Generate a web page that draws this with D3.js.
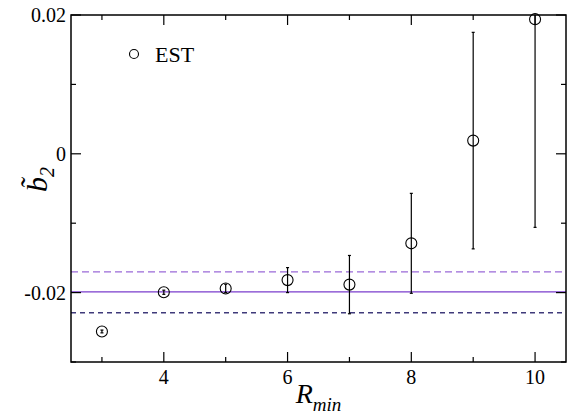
<!DOCTYPE html>
<html>
<head>
<meta charset="utf-8">
<script src="https://cdn.jsdelivr.net/npm/d3@7.9.0/dist/d3.min.js"></script>
<style>
  body { margin: 0; background: #fff; }
</style>
</head>
<body>
<svg id="chart" width="569" height="418"></svg>
<script>
// R_min values and the EST estimate of b2 with its error
const rmin = [3, 4, 5, 6, 7, 8, 9, 10];
const est = [-0.0256, -0.01995, -0.0194, -0.0182, -0.01885, -0.0129, 0.0019, 0.0194];
const estErr = [0.0002, 0.0003, 0.0006, 0.0018, 0.0042, 0.0072, 0.0156, 0.0300];

// reference lines: central value and band
const refLine = -0.0199;
const bandUpper = -0.0170;
const bandLower = -0.0229;

const xTicks = [4, 6, 8, 10];
const xMinor = [3, 5, 7, 9];
const yTicks = [-0.02, 0, 0.02];
const yMinor = [-0.03, -0.01, 0.01];

// serif only comes out at small sizes here, so text is set at BASE px and scaled up
const FONT = '"Liberation Serif"';
const BASE = 14;
const margin = { left: 71, right: 3, top: 15, bottom: 56 };
const width = 569, height = 418;

const svg = d3.select('#chart');

const x = d3.scaleLinear().domain([2.5, 10.5]).range([margin.left, width - margin.right]);
const y = d3.scaleLinear().domain([-0.03, 0.02]).range([height - margin.bottom, margin.top]);

const x0 = x.range()[0], x1 = x.range()[1];
const y0 = y.range()[0], y1 = y.range()[1];

function scaledText(parent, transform, size) {
  return parent.append('g')
    .attr('transform', `${transform} scale(${size / BASE})`)
    .append('text')
    .style('font-family', FONT)
    .style('font-size', BASE + 'px');
}

// clip so the big error bar at R=10 stops at the frame
svg.append('clipPath').attr('id', 'plotclip')
  .append('rect').attr('x', x0).attr('y', y1).attr('width', x1 - x0).attr('height', y0 - y1);

const plot = svg.append('g').attr('clip-path', 'url(#plotclip)');

// horizontal reference lines
plot.append('line')
  .attr('x1', x0).attr('x2', x1).attr('y1', y(bandUpper)).attr('y2', y(bandUpper))
  .attr('stroke', '#9a6ad8').attr('stroke-width', 1.3).attr('stroke-dasharray', '7,4');
plot.append('line')
  .attr('x1', x0).attr('x2', x1).attr('y1', y(refLine)).attr('y2', y(refLine))
  .attr('stroke', '#7a3ccc').attr('stroke-width', 1.3);
plot.append('line')
  .attr('x1', x0).attr('x2', x1).attr('y1', y(bandLower)).attr('y2', y(bandLower))
  .attr('stroke', '#3f3a7a').attr('stroke-width', 1.3).attr('stroke-dasharray', '5,4');

// error bars
rmin.forEach((r, i) => {
  const top = y(est[i] + estErr[i]);
  const bot = y(est[i] - estErr[i]);
  plot.append('line')
    .attr('x1', x(r)).attr('x2', x(r)).attr('y1', top).attr('y2', bot)
    .attr('stroke', '#000').attr('stroke-width', 1.2);
  [top, bot].forEach((yy) => {
    plot.append('line')
      .attr('x1', x(r) - 1.5).attr('x2', x(r) + 1.5).attr('y1', yy).attr('y2', yy)
      .attr('stroke', '#000').attr('stroke-width', 1.2);
  });
});

// markers
svg.append('g').selectAll('circle')
  .data(rmin)
  .join('circle')
  .attr('cx', (d) => x(d))
  .attr('cy', (d, i) => y(est[i]))
  .attr('r', 5.5)
  .attr('fill', 'none')
  .attr('stroke', '#000')
  .attr('stroke-width', 1.1);

// frame
svg.append('rect')
  .attr('x', x0).attr('y', y1).attr('width', x1 - x0).attr('height', y0 - y1)
  .attr('fill', 'none').attr('stroke', '#000').attr('stroke-width', 1.5);

// ticks pointing inward on all four sides
const tickLen = 10, minorLen = 5;
xTicks.concat(xMinor).forEach((t) => {
  const len = xTicks.includes(t) ? tickLen : minorLen;
  svg.append('line').attr('x1', x(t)).attr('x2', x(t)).attr('y1', y0).attr('y2', y0 - len)
    .attr('stroke', '#000').attr('stroke-width', 1.2);
  svg.append('line').attr('x1', x(t)).attr('x2', x(t)).attr('y1', y1).attr('y2', y1 + len)
    .attr('stroke', '#000').attr('stroke-width', 1.2);
});
yTicks.concat(yMinor).forEach((t) => {
  const len = yTicks.includes(t) ? tickLen : minorLen;
  svg.append('line').attr('x1', x0).attr('x2', x0 + len).attr('y1', y(t)).attr('y2', y(t))
    .attr('stroke', '#000').attr('stroke-width', 1.2);
  svg.append('line').attr('x1', x1).attr('x2', x1 - len).attr('y1', y(t)).attr('y2', y(t))
    .attr('stroke', '#000').attr('stroke-width', 1.2);
});

// tick labels
xTicks.forEach((t) => {
  scaledText(svg, `translate(${x(t)},${y0 + 22})`, 20)
    .attr('text-anchor', 'middle')
    .text(t);
});
yTicks.forEach((t) => {
  scaledText(svg, `translate(${x0 - 5},${y(t) + 7})`, 20)
    .attr('text-anchor', 'end')
    .text(t === 0 ? '0' : d3.format('.2f')(t).replace('−', '-'));
});

// axis titles
const xl = scaledText(svg, `translate(${(x0 + x1) / 2},403)`, 28)
  .attr('text-anchor', 'middle')
  .style('font-style', 'italic');
xl.append('tspan').text('R');
xl.append('tspan').style('font-size', '9.5px').attr('dy', 4).text('min');

const yl = scaledText(svg, 'translate(47,192) rotate(-90)', 30)
  .style('font-style', 'italic');
yl.append('tspan').text('b\u0303');
yl.append('tspan').style('font-size', '9.3px').attr('dy', 3.3).text('2');

// legend
svg.append('circle')
  .attr('cx', 134).attr('cy', 54).attr('r', 4.5)
  .attr('fill', 'none').attr('stroke', '#000').attr('stroke-width', 1.1);
scaledText(svg, 'translate(155,62)', 22).text('EST');
</script>
</body>
</html>
